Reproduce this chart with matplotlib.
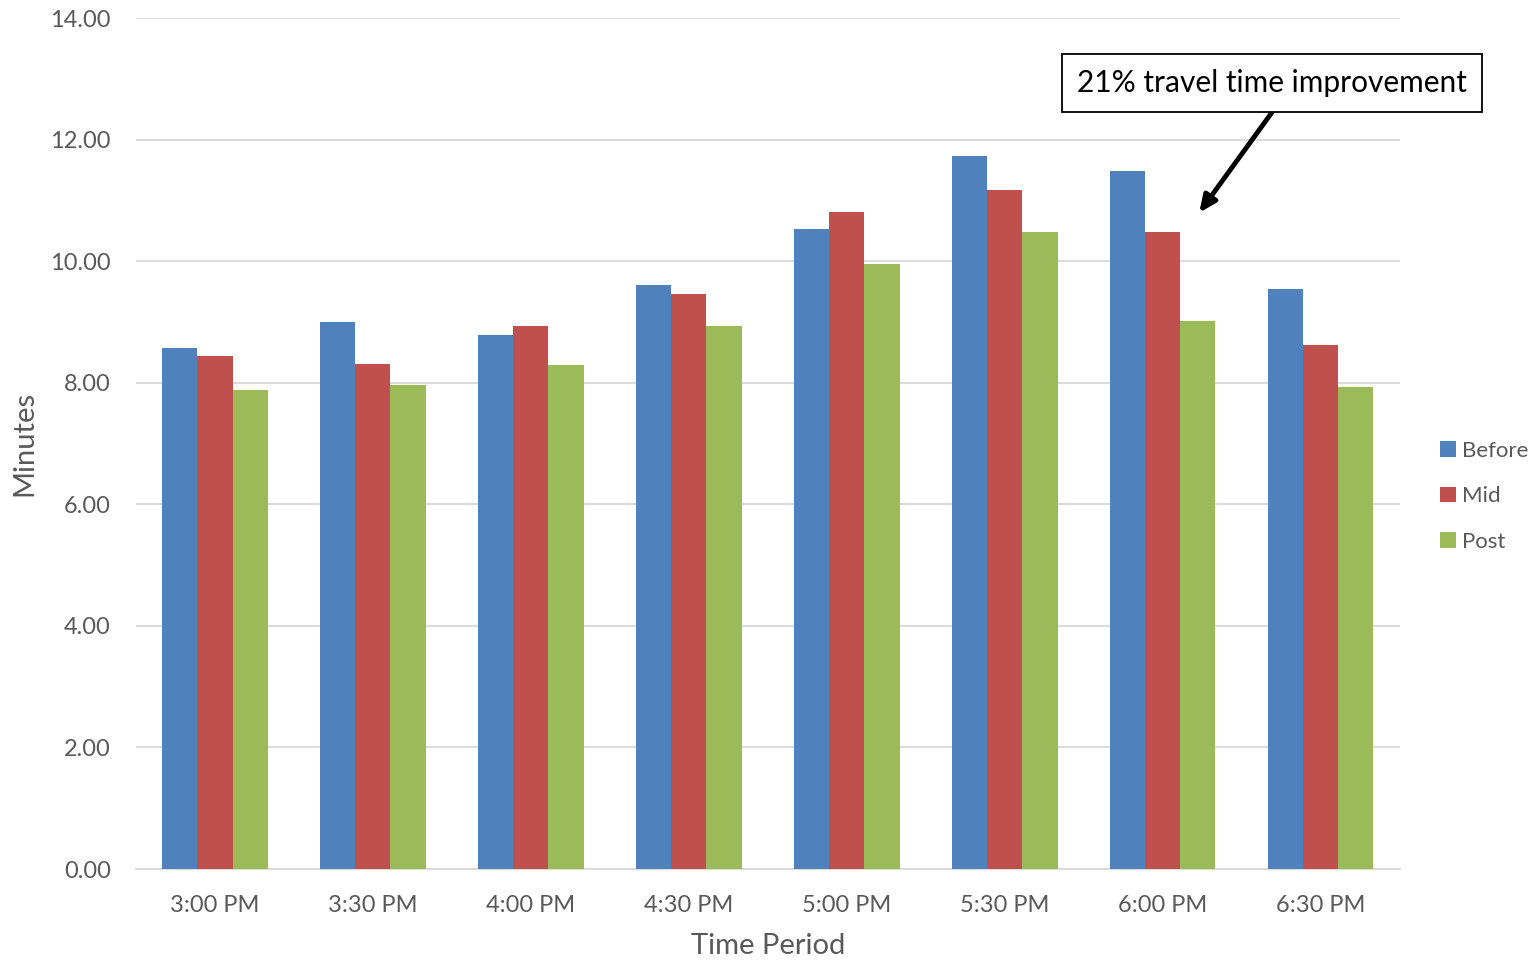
import matplotlib.pyplot as plt
import numpy as np

plt.rcParams['font.family'] = ['Lato', 'DejaVu Sans']

periods = ["3:00 PM", "3:30 PM", "4:00 PM", "4:30 PM",
           "5:00 PM", "5:30 PM", "6:00 PM", "6:30 PM"]
before = [8.57, 9.00, 8.78, 9.61, 10.54, 11.74, 11.48, 9.54]
mid = [8.44, 8.31, 8.93, 9.46, 10.82, 11.18, 10.49, 8.62]
post = [7.88, 7.96, 8.29, 8.93, 9.95, 10.49, 9.01, 7.94]

series = [("Before", before, "#4F81BD"),
          ("Mid", mid, "#C0504D"),
          ("Post", post, "#9BBB59")]

fig = plt.figure(figsize=(15.4, 9.61), dpi=100)
ax = fig.add_axes([0.0883, 0.0957, 0.8207, 0.8853])

x = np.arange(len(periods))
w = 0.222
for i, (name, vals, col) in enumerate(series):
    ax.bar(x + (i - 1) * w, vals, width=w, color=col, label=name, zorder=3)

ax.set_xlim(-0.5, len(periods) - 0.5)
ax.set_ylim(0, 14)
ax.set_yticks(np.arange(0, 14.1, 2))
ax.set_yticklabels([f"{v:.2f}" for v in np.arange(0, 14.1, 2)])
ax.set_xticks(x)
ax.set_xticklabels(periods)
ax.tick_params(length=0, labelsize=17, colors="#595959")
ax.tick_params(axis="x", pad=19)
ax.tick_params(axis="y", pad=18)
ax.grid(axis="y", color="#D9D9D9", linewidth=1.3, zorder=0)
for s in ["top", "right", "left"]:
    ax.spines[s].set_visible(False)
ax.spines["bottom"].set_color("#D9D9D9")
ax.spines["bottom"].set_linewidth(1.3)

ax.set_xlabel("Time Period", fontsize=21, color="#595959", labelpad=12)
ax.set_ylabel("Minutes", fontsize=21, color="#595959", labelpad=9)

leg = ax.legend(loc="center left", bbox_to_anchor=(1.016, 0.438), frameon=False,
                fontsize=16, handlelength=0.7, handleheight=0.7,
                handletextpad=0.3, labelspacing=1.15)
for t in leg.get_texts():
    t.set_color("#595959")

# callout box and arrow
ax.text(6.69, 12.94, "21% travel time improvement", fontsize=21.5, color="black",
        ha="center", va="center", zorder=6,
        bbox=dict(boxstyle="square,pad=0.5", fc="white", ec="black", lw=1.3))
ax.annotate("", xy=(6.23, 10.80), xytext=(6.69, 12.45),
            arrowprops=dict(arrowstyle="-|>,head_length=1.0,head_width=0.45",
                            color="black", lw=3.5, shrinkA=0, shrinkB=0),
            annotation_clip=False, zorder=5)

fig.savefig("out.png", dpi=100)
